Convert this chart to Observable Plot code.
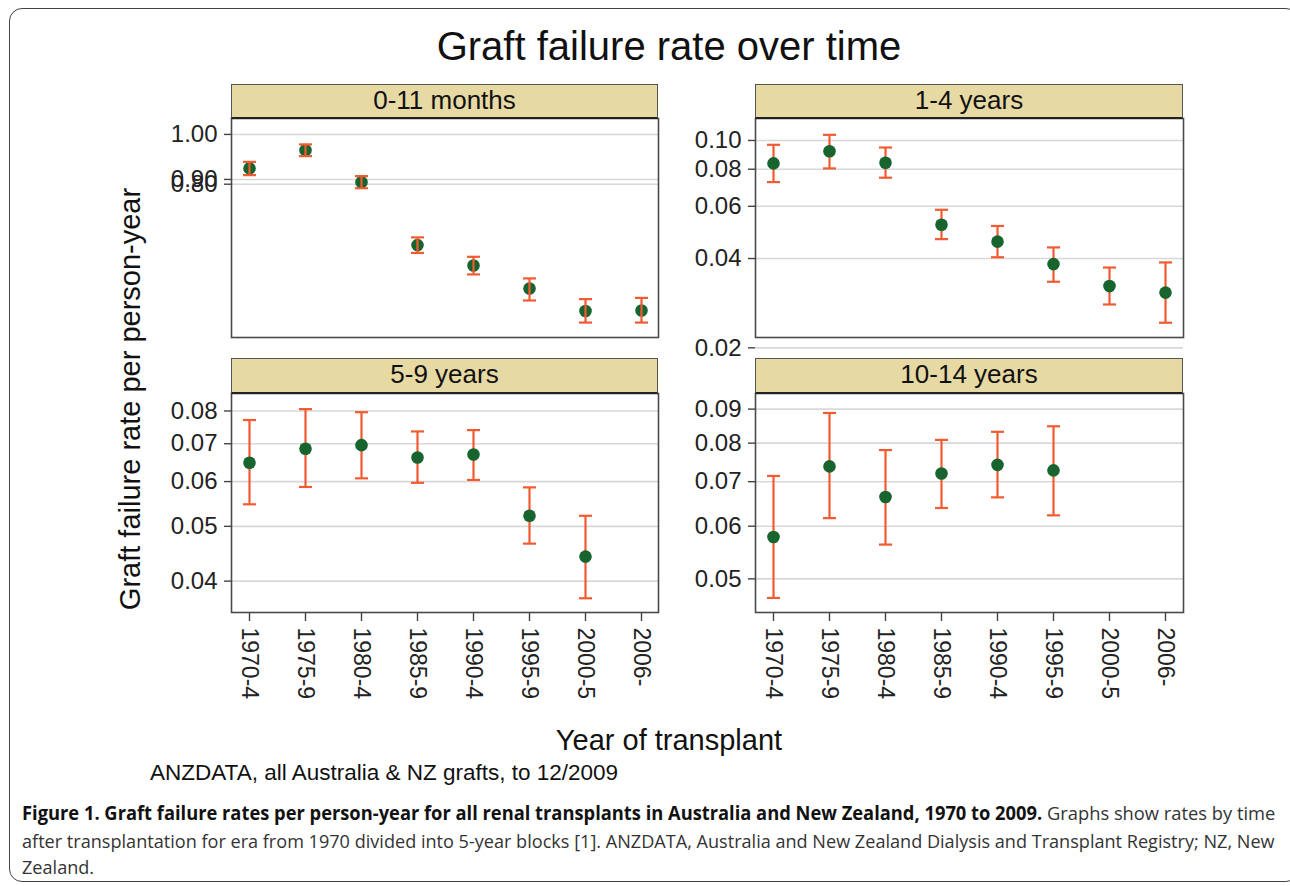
<!DOCTYPE html>
<html>
<head>
<meta charset="utf-8">
<script src="https://cdn.jsdelivr.net/npm/d3@7"></script>
<script src="https://cdn.jsdelivr.net/npm/@observablehq/plot@0.6"></script>
<style>
  body { margin: 0; background: #fff; font-family: "Liberation Sans", Arial, sans-serif; }
  #wrap { position: relative; width: 1290px; height: 886px; overflow: hidden; background: #fff; }
  .box { position: absolute; left: 9px; top: 8px; width: 1290px; height: 874px; border: 1.2px solid #444; border-radius: 13px; box-sizing: border-box; }
  .abs { position: absolute; white-space: nowrap; color: #111; }
  .strip { position: absolute; background: #e6d9a4; border: 1.5px solid #555; border-bottom: 2.5px solid #222; box-sizing: border-box; text-align: center; font-size: 26px; line-height: 31px; color: #111; }
  .plotbox { position: absolute; }
  .cap { position: absolute; left: 22px; white-space: nowrap; font-family: "Open Sans", "Noto Sans", sans-serif; font-size: 19px; line-height: 26px; color: #333; transform-origin: 0 50%; }
  .cap b { color: #111; }
</style>
</head>
<body>
<div id="wrap">
  <div class="box"></div>
  <div class="abs" id="title" style="left:0;width:1338px;top:24px;text-align:center;font-size:40px;">Graft failure rate over time</div>
  <div class="abs" id="ylab" style="left:130px;top:399px;font-size:29px;transform:translate(-50%,-50%) rotate(-90deg);">Graft failure rate per person-year</div>
  <div class="abs" id="xlab" style="left:0;width:1338px;top:724px;text-align:center;font-size:29px;">Year of transplant</div>
  <div class="abs" id="src" style="left:150px;top:760px;font-size:22.5px;">ANZDATA, all Australia &amp; NZ grafts, to 12/2009</div>
  <div class="cap" id="cap1" style="top:800px;"><b>Figure 1. Graft failure rates per person-year for all renal transplants in Australia and New Zealand, 1970 to 2009.</b> Graphs show rates by time</div>
  <div class="cap" id="cap2" style="top:828px;">after transplantation for era from 1970 divided into 5-year blocks [1]. ANZDATA, Australia and New Zealand Dialysis and Transplant Registry; NZ, New</div>
  <div class="cap" id="cap3" style="top:854px;">Zealand.</div>
</div>
<script>
// ---------- data ----------
const periods = ["1970-4", "1975-9", "1980-4", "1985-9", "1990-4", "1995-9", "2000-5", "2006-"];
const panelTitles = ["0-11 months", "1-4 years", "5-9 years", "10-14 years"];

// 0-11 months
const rate0 = [0.9235, 0.9639, 0.8943, 0.7717, 0.7358, 0.6972, 0.6614, 0.6622];
const lo0   = [0.9091, 0.9504, 0.8817, 0.7577, 0.7205, 0.6779, 0.6437, 0.6437];
const hi0   = [0.9378, 0.9769, 0.9070, 0.7858, 0.7509, 0.7138, 0.6800, 0.6820];
const ticks0 = [1.0, 0.9, 0.89];
const tickLabels0 = ["1.00", "0.90", "0.80"];

// 1-4 years
const rate1 = [0.0837, 0.0920, 0.0841, 0.0520, 0.0456, 0.0383, 0.0323, 0.0307];
const lo1   = [0.0724, 0.0805, 0.0749, 0.0465, 0.0404, 0.0334, 0.0280, 0.0243];
const hi1   = [0.0967, 0.1045, 0.0947, 0.0584, 0.0515, 0.0436, 0.0373, 0.0388];
const ticks1 = [0.02, 0.04, 0.06, 0.08, 0.10];

// 5-9 years
const rate2 = [0.0648, 0.0686, 0.0696, 0.0662, 0.0670, 0.0522, 0.0442, null];
const lo2   = [0.0547, 0.0587, 0.0608, 0.0597, 0.0604, 0.0466, 0.0373, null];
const hi2   = [0.0771, 0.0806, 0.0796, 0.0736, 0.0740, 0.0586, 0.0522, null];
const ticks2 = [0.04, 0.05, 0.06, 0.07, 0.08];

// 10-14 years
const rate3 = [0.0578, 0.0738, 0.0664, 0.0720, 0.0742, 0.0728, null, null];
const lo3   = [0.0468, 0.0617, 0.0563, 0.0639, 0.0663, 0.0623, null, null];
const hi3   = [0.0714, 0.0888, 0.0781, 0.0809, 0.0832, 0.0848, null, null];
const ticks3 = [0.05, 0.06, 0.07, 0.08, 0.09];

// ---------- panel settings ----------
const panels = [
  {title: panelTitles[0], rate: rate0, lo: lo0, hi: hi0, ticks: ticks0, labels: tickLabels0, domain: [0.6216, 1.038], left: 231, top: 118.3, width: 427, xAxis: false, barsOnTop: true},
  {title: panelTitles[1], rate: rate1, lo: lo1, hi: hi1, ticks: ticks1, domain: [0.02167, 0.1186], left: 755, top: 118.3, width: 428, xAxis: false, barsOnTop: false},
  {title: panelTitles[2], rate: rate2, lo: lo2, hi: hi2, ticks: ticks2, domain: [0.0352, 0.0859], left: 231, top: 392.7, width: 427, xAxis: true, barsOnTop: false},
  {title: panelTitles[3], rate: rate3, lo: lo3, hi: hi3, ticks: ticks3, domain: [0.0445, 0.0950], left: 755, top: 392.7, width: 428, xAxis: true, barsOnTop: false}
];

const plotH = 219;
const stripH = 34.5;
const green = "#17642f";
const orange = "#f25a30";
const capSymbol = {
  draw(context, size) {
    const w = Math.sqrt(size / Math.PI);
    context.moveTo(-w, 0);
    context.lineTo(w, 0);
  }
};

const wrap = document.getElementById("wrap");

panels.forEach(cfg => {
  const rows = periods.map((p, i) => ({period: p, rate: cfg.rate[i], lo: cfg.lo[i], hi: cfg.hi[i]}))
    .filter(d => d.rate != null);
  const mt = 6, ml = 112, mr = 6;
  const mb = cfg.xAxis ? 100 : 16;
  const f2 = d3.format(".2f");
  const fmt = cfg.labels
    ? (d => cfg.labels[cfg.ticks.indexOf(d)])
    : (d => f2(d));

  const bars = [
    Plot.ruleX(rows, {x: "period", y1: "lo", y2: "hi", stroke: orange, strokeWidth: 2.2}),
    Plot.dot(rows, {x: "period", y: "lo", symbol: capSymbol, r: 6.5, stroke: orange, strokeWidth: 2.2, fill: "none"}),
    Plot.dot(rows, {x: "period", y: "hi", symbol: capSymbol, r: 6.5, stroke: orange, strokeWidth: 2.2, fill: "none"})
  ];
  const dots = [Plot.dot(rows, {x: "period", y: "rate", r: 6.3, fill: green, stroke: "none"})];

  const marks = [
    Plot.gridY(cfg.ticks, {stroke: "#d8d8d8", strokeOpacity: 1, strokeWidth: 1.6}),
    ...(cfg.barsOnTop ? [...dots, ...bars] : [...bars, ...dots]),
    Plot.frame({stroke: "#4a4a4a", strokeWidth: 1.6}),
    Plot.axisY(cfg.ticks, {tickSize: 7, tickPadding: 7, fontSize: 24, text: fmt, color: "#222", stroke: "#444", strokeWidth: 1.4, label: null})
  ];
  if (cfg.xAxis) {
    marks.push(Plot.axisX(periods, {tickSize: 9, tickPadding: 6, tickRotate: 90, fontSize: 23, color: "#222", stroke: "#444", strokeWidth: 1.4, label: null}));
  }

  const chart = Plot.plot({
    width: ml + cfg.width + mr,
    height: mt + plotH + mb,
    marginTop: mt,
    marginLeft: ml,
    marginRight: mr,
    marginBottom: mb,
    style: {background: "transparent", overflow: "visible", fontFamily: "Liberation Sans, Arial, sans-serif"},
    x: {type: "point", domain: periods, padding: 0.26, axis: null},
    y: {type: "log", domain: cfg.domain, axis: null},
    marks
  });
  const box = document.createElement("div");
  box.className = "plotbox";
  box.style.left = (cfg.left - ml) + "px";
  box.style.top = (cfg.top - mt) + "px";
  box.appendChild(chart);
  wrap.appendChild(box);

  const strip = document.createElement("div");
  strip.className = "strip";
  strip.style.left = cfg.left + "px";
  strip.style.top = (cfg.top - stripH) + "px";
  strip.style.width = cfg.width + "px";
  strip.style.height = (stripH + 1) + "px";
  strip.textContent = cfg.title;
  wrap.appendChild(strip);
});

// fit caption lines to the measured widths of the reference
const c1 = document.getElementById("cap1");
const c2 = document.getElementById("cap2");
const c3 = document.getElementById("cap3");
const s1 = 1253 / c1.scrollWidth;
const s2 = 1253 / c2.scrollWidth;
c1.style.transform = `scaleX(${s1})`;
c2.style.transform = `scaleX(${s2})`;
c3.style.transform = `scaleX(${s2})`;
</script>
</body>
</html>
